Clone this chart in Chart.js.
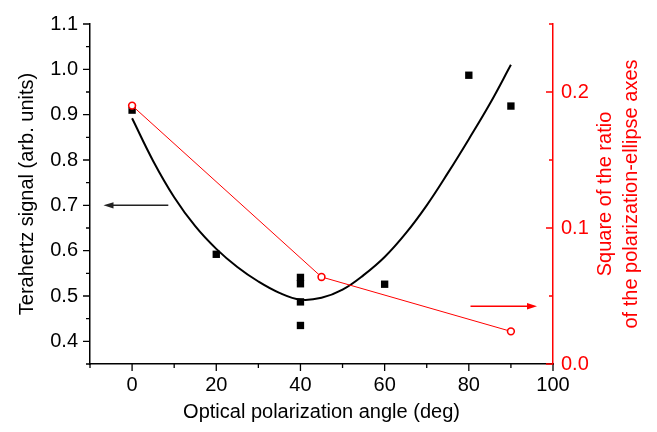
<!DOCTYPE html>
<html>
<head>
<meta charset="utf-8">
<script src="https://cdn.jsdelivr.net/npm/chart.js@4.4.1/dist/chart.umd.min.js"></script>
<style>
  body { margin: 0; background: #fff; }
  canvas { display: block; }
</style>
</head>
<body>
<canvas id="chart" width="657" height="432"></canvas>
<script>
// Measured terahertz signal (left axis)
const signalAngles = [0, 20, 40, 40, 40, 40, 60, 80, 90];
const signalValues = [0.91, 0.592, 0.541, 0.527, 0.487, 0.435, 0.526, 0.987, 0.919];

// Fit curve (left axis)
const fitAngles = [0, 5, 10, 15, 20, 25, 30, 35, 40, 45, 50, 55, 60, 65, 70, 75, 80, 85, 90];
const fitValues = [0.892, 0.798, 0.718, 0.654, 0.604, 0.564, 0.532, 0.507, 0.492, 0.496, 0.514, 0.546, 0.586, 0.638, 0.7, 0.771, 0.846, 0.924, 1.01];

// Square of the ratio of the polarization-ellipse axes (right axis)
const ratioAngles = [0, 45, 90];
const ratioValues = [0.19, 0.064, 0.024];

// Tick labels
const xTicks = [0, 20, 40, 60, 80, 100];
const xMinorTicks = [-10, 10, 30, 50, 70, 90];
const yTicks = [0.4, 0.5, 0.6, 0.7, 0.8, 0.9, 1.0, 1.1];
const yMinorTicks = [0.35, 0.45, 0.55, 0.65, 0.75, 0.85, 0.95, 1.05];
const y2Ticks = [0.0, 0.1, 0.2];
const y2MinorTicks = [0.05, 0.15, 0.25];

// Arrows pointing to the axes: [xFrom, xTo, y]
const leftArrow = [8.6, -6.8, 0.7];
const rightArrow = [80.4, 96.2, 0.0425];

const FONT = '"Liberation Sans", Arial, sans-serif';
const RED = '#ff0000';

const toPoints = (xs, ys) => xs.map((x, i) => ({ x: x, y: ys[i] }));

function drawArrow(ctx, x1, x2, y, color) {
    const dir = x2 > x1 ? 1 : -1;
    ctx.save();
    ctx.strokeStyle = color;
    ctx.fillStyle = color;
    ctx.lineWidth = 1.5;
    ctx.beginPath();
    ctx.moveTo(x1, y);
    ctx.lineTo(x2 - dir * 6, y);
    ctx.stroke();
    ctx.beginPath();
    ctx.moveTo(x2, y);
    ctx.lineTo(x2 - dir * 10, y - 3.2);
    ctx.lineTo(x2 - dir * 10, y + 3.2);
    ctx.closePath();
    ctx.fill();
    ctx.restore();
}

const extrasPlugin = {
    id: 'extras',
    afterDraw(chart) {
        const ctx = chart.ctx;
        const { x, y, y2 } = chart.scales;
        const area = chart.chartArea;

        ctx.save();
        ctx.lineWidth = 1.3;

        // left axis ticks, outward
        ctx.strokeStyle = '#000';
        ctx.beginPath();
        yTicks.forEach(v => { const p = y.getPixelForValue(v); ctx.moveTo(area.left, p); ctx.lineTo(area.left - 7, p); });
        yMinorTicks.forEach(v => { const p = y.getPixelForValue(v); ctx.moveTo(area.left, p); ctx.lineTo(area.left - 4, p); });
        // bottom axis ticks, outward
        xTicks.forEach(v => { const p = x.getPixelForValue(v); ctx.moveTo(p, area.bottom); ctx.lineTo(p, area.bottom + 7); });
        xMinorTicks.forEach(v => { const p = x.getPixelForValue(v); ctx.moveTo(p, area.bottom); ctx.lineTo(p, area.bottom + 4); });
        ctx.stroke();

        // right axis ticks, inward
        ctx.strokeStyle = RED;
        ctx.beginPath();
        y2Ticks.forEach(v => { const p = y2.getPixelForValue(v); ctx.moveTo(area.right, p); ctx.lineTo(area.right - 7, p); });
        y2MinorTicks.forEach(v => { const p = y2.getPixelForValue(v); ctx.moveTo(area.right, p); ctx.lineTo(area.right - 4, p); });
        ctx.stroke();
        ctx.restore();

        // arrows
        drawArrow(ctx, x.getPixelForValue(leftArrow[0]), x.getPixelForValue(leftArrow[1]),
            y.getPixelForValue(leftArrow[2]), '#222');
        drawArrow(ctx, x.getPixelForValue(rightArrow[0]), x.getPixelForValue(rightArrow[1]),
            y2.getPixelForValue(rightArrow[2]), RED);

        // right axis title, reading upward
        ctx.save();
        ctx.fillStyle = RED;
        ctx.font = '20px ' + FONT;
        ctx.textAlign = 'center';
        ctx.textBaseline = 'middle';
        ctx.translate(0, (area.top + area.bottom) / 2);
        ctx.rotate(-Math.PI / 2);
        ctx.fillText('Square of the ratio', 0, 605);
        ctx.fillText('of the polarization-ellipse axes', 0, 631);
        ctx.restore();
    }
};

new Chart(document.getElementById('chart'), {
    type: 'scatter',
    data: {
        datasets: [
            {
                label: 'fit',
                data: toPoints(fitAngles, fitValues),
                showLine: true,
                borderColor: '#000',
                borderWidth: 2,
                pointRadius: 0,
                tension: 0.4,
                yAxisID: 'y',
                order: 3
            },
            {
                label: 'signal',
                data: toPoints(signalAngles, signalValues),
                pointStyle: 'rect',
                pointRadius: 5.2,
                pointBorderWidth: 0,
                backgroundColor: '#000',
                borderColor: '#000',
                yAxisID: 'y',
                order: 2
            },
            {
                label: 'ratio',
                data: toPoints(ratioAngles, ratioValues),
                showLine: true,
                borderColor: RED,
                borderWidth: 1,
                pointRadius: 3.4,
                pointBorderWidth: 1.6,
                pointBackgroundColor: '#fff',
                pointBorderColor: RED,
                yAxisID: 'y2',
                order: 1
            }
        ]
    },
    options: {
        responsive: false,
        animation: false,
        events: [],
        layout: { padding: { top: 19, left: 0, right: 0, bottom: 0 } },
        plugins: { legend: { display: false }, tooltip: { enabled: false } },
        scales: {
            x: {
                type: 'linear',
                position: 'bottom',
                min: -10,
                max: 100,
                afterBuildTicks: s => { s.ticks = xTicks.map(v => ({ value: v })); },
                afterFit: s => { s.height = 68; },
                grid: { display: false, drawTicks: false },
                border: { display: true, color: '#000', width: 1.5 },
                ticks: {
                    padding: 9,
                    color: '#000',
                    font: { family: FONT, size: 20 },
                    callback: v => String(v)
                },
                title: {
                    display: true,
                    text: 'Optical polarization angle (deg)',
                    color: '#000',
                    font: { family: FONT, size: 20 },
                    padding: { top: 0, bottom: 8 }
                }
            },
            y: {
                type: 'linear',
                position: 'left',
                min: 0.35,
                max: 1.1,
                afterBuildTicks: s => { s.ticks = yTicks.map(v => ({ value: v })); },
                afterFit: s => { s.width = 90; },
                grid: { display: false, drawTicks: false },
                border: { display: true, color: '#000', width: 1.5 },
                ticks: {
                    padding: 12,
                    color: '#000',
                    font: { family: FONT, size: 20 },
                    callback: v => v.toFixed(1)
                },
                title: {
                    display: true,
                    text: 'Terahertz signal (arb. units)',
                    color: '#000',
                    font: { family: FONT, size: 20 },
                    padding: { top: 15, bottom: 0 }
                }
            },
            y2: {
                type: 'linear',
                position: 'right',
                min: 0,
                max: 0.25,
                afterBuildTicks: s => { s.ticks = y2Ticks.map(v => ({ value: v })); },
                afterFit: s => { s.width = 104; },
                grid: { display: false, drawTicks: false },
                border: { display: true, color: RED, width: 1.5 },
                ticks: {
                    padding: 8,
                    color: RED,
                    font: { family: FONT, size: 20 },
                    callback: v => v.toFixed(1)
                }
            }
        }
    },
    plugins: [extrasPlugin]
});
</script>
</body>
</html>
